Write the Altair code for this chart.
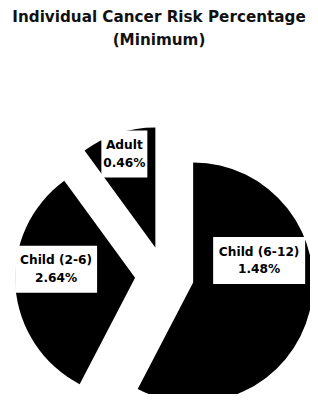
import altair as alt
import pandas as pd

# ---- data ----
categories = ["Child (6-12)", "Child (2-6)", "Adult"]
slice_values = [2.64, 1.48, 0.46]          # slice sizes, clockwise from 12 o'clock
label_values = ["1.48%", "2.64%", "0.46%"]  # percentages printed in the labels

# ---- layout / style (not data) ----
label_dx = [66, -79, -31]      # label centre offset from slice apex (px)
label_dy = [-22, -8.5, -93.5]
box_w = [92, 82, 46]
BOX_H = 47
R = 120
EXPLODE = 29.5
CX, CY = 156.5, 217.5
FONT = "DejaVu Sans"
LINE_H = 17.5

df = pd.DataFrame({
    "category": categories,
    "value": slice_values,
    "pct": label_values,
    "ldx": label_dx,
    "ldy": label_dy,
    "bw": box_w,
})

base = (
    alt.Chart(df)
    .transform_window(idx="row_number()")
    .transform_window(cum="sum(value)", sort=[alt.SortField("idx")], frame=[None, 0])
    .transform_joinaggregate(total="sum(value)")
    .transform_calculate(a0="2*PI*(datum.cum - datum.value)/datum.total")
    .transform_calculate(a1="2*PI*datum.cum/datum.total")
    .transform_calculate(mid="(datum.a0 + datum.a1)/2")
    .transform_calculate(ax=f"{CX} + {EXPLODE}*sin(datum.mid)")
    .transform_calculate(ay=f"{CY} - {EXPLODE}*cos(datum.mid)")
    .transform_calculate(lx="datum.ax + datum.ldx")
    .transform_calculate(ly="datum.ay + datum.ldy")
    .transform_calculate(bx0="datum.lx - datum.bw/2", bx1="datum.lx + datum.bw/2")
    .transform_calculate(by0=f"datum.ly - {BOX_H/2}", by1=f"datum.ly + {BOX_H/2}")
    .transform_calculate(label="datum.category + '\\n' + datum.pct")
)

arcs = base.mark_arc(color="black", outerRadius=R).encode(
    theta=alt.Theta("a0:Q", scale=None, stack=None),
    theta2="a1:Q",
    x=alt.X("ax:Q", scale=None),
    y=alt.Y("ay:Q", scale=None),
)

boxes = base.mark_rect(color="white").encode(
    x=alt.X("bx0:Q", scale=None),
    x2="bx1:Q",
    y=alt.Y("by0:Q", scale=None),
    y2="by1:Q",
)

labels = base.mark_text(
    font=FONT, fontWeight="bold", fontSize=12.2, lineBreak="\n",
    lineHeight=LINE_H, dy=-LINE_H / 2, color="black", align="center",
    baseline="middle",
).encode(
    x=alt.X("lx:Q", scale=None),
    y=alt.Y("ly:Q", scale=None),
    text="label:N",
)

chart = (
    alt.layer(arcs, boxes, labels)
    .properties(
        width=302,
        height=336,
        padding={"top": 50, "left": 0, "right": 0, "bottom": 0},
        autosize=alt.AutoSizeParams(type="none"),
        view=alt.ViewBackground(stroke="transparent", strokeWidth=0),
        title=alt.Title(
            ["Individual Cancer Risk Percentage", "(Minimum)"],
            font=FONT, fontSize=15.2, fontWeight="bold", lineHeight=23,
            anchor="middle", offset=10, color="#111111",
        ),
    )
    .configure_view(strokeWidth=0, strokeOpacity=0)
    .configure(background="white")
)

chart.save("out.html", embed_options={"renderer": "svg", "actions": False})
